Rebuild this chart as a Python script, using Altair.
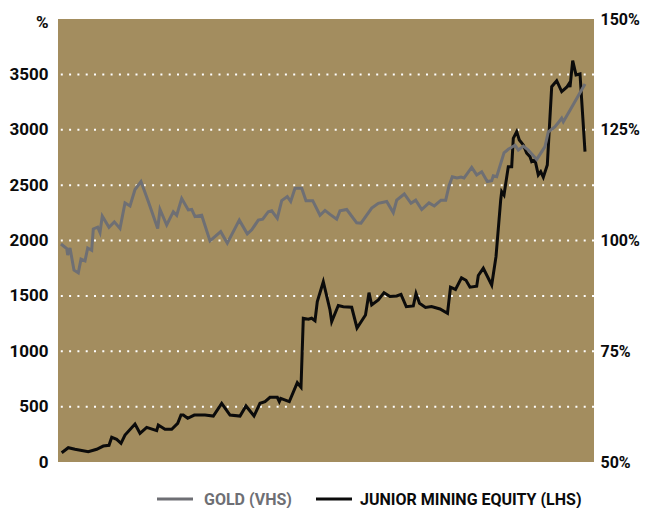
import altair as alt
import pandas as pd

# Gold (right-hand scale, %)
gold_t = [3, 8.7, 9.7, 12, 16, 20.3, 23, 27, 29.7, 33.7, 35.3, 39.7, 42, 44.3, 51, 56.3, 62, 67, 72, 77,
          83, 90.3, 99.7, 102, 108.7, 115.3, 118.7, 123.7, 130.3, 133.7, 137, 143.7, 152, 162.7, 169.3,
          181.3, 189.3, 193.7, 200.3, 204.7, 210.3, 213.7, 219.3, 223.7, 229.3, 232.7, 237, 243.7, 248,
          254.7, 262, 267, 272, 278.7, 282, 288.7, 298.7, 303, 313.7, 320.3, 328.7, 335.3, 338.7, 346.3,
          353, 357.7, 363.7, 371, 376.3, 383, 387.7, 391, 394.3, 399, 403, 406, 413.7, 418.7, 423.7,
          429.3, 433.7, 435.3, 438.7, 446, 450.3, 457, 460.3, 465.3, 470.3, 478.7, 487, 490.3, 497, 501,
          503.7, 505.3, 512, 527]
gold_v = [99.2, 98.2, 96.7, 98.3, 93.3, 92.7, 95.8, 95.4, 98.3, 97.8, 102.6, 103.0, 101.8, 105.5, 103.0,
          104.2, 102.7, 108.5, 107.8, 111.5, 113.3, 108.8, 102.7, 107.0, 103.5, 106.5, 105.7, 109.5, 106.9,
          107.0, 105.4, 105.7, 99.9, 102.0, 99.4, 104.6, 101.5, 102.4, 104.6, 104.8, 106.5, 106.7, 105.0,
          109.0, 109.9, 108.8, 111.8, 111.8, 109.0, 109.0, 105.7, 106.8, 105.9, 104.8, 106.7, 107.0, 104.0,
          103.9, 107.3, 108.4, 108.8, 106.3, 109.1, 110.5, 108.4, 109.1, 107.0, 108.5, 107.8, 109.1, 109.1,
          112.3, 114.4, 114.1, 114.3, 114.1, 116.5, 114.8, 115.5, 113.3, 113.5, 114.6, 114.4, 119.8, 120.6,
          121.5, 120.4, 121.3, 120.4, 118.3, 121.2, 124.5, 125.7, 126.8, 127.6, 126.8, 129.4, 135.3]

# Junior mining equity (left-hand scale, %)
jr_t = [3.7, 10.3, 17, 30.3, 38.7, 45.3, 51, 53.7, 58.7, 63, 67, 77, 82, 88.7, 98.7, 100.3, 107, 113.7,
        119.7, 123, 125.3, 129.7, 136.3, 147, 155.3, 163.7, 172, 182, 188, 196, 202, 207, 212, 219.3,
        221.3, 222.7, 231.3, 239.3, 243, 245.3, 250.3, 253.7, 257, 259.3, 265.3, 272, 273.7, 280.3, 285.3,
        293.7, 299, 307.5, 311, 313.7, 320.3, 326, 332, 338.7, 343, 348.3, 355.3, 358, 361.5, 367.5,
        373.5, 382, 389.5, 392.5, 397.5, 403.5, 408, 412, 418.7, 420.3, 425.3, 433.7, 438, 442.7, 443.7,
        446, 450.3, 453.7, 455.3, 458.7, 461.3, 465.3, 468.7, 472, 473.7, 477, 480.3, 482.7, 485.3, 489.3,
        492, 493.7, 498.7, 503.7, 508.7, 511.3, 512, 514.7, 518, 522, 527]
jr_v = [84, 129, 115, 93, 115, 144, 151, 223, 205, 169, 244, 343, 259, 313, 283, 334, 295, 295, 349, 424,
        424, 395, 424, 424, 415, 530, 424, 415, 506, 415, 530, 545, 584, 584, 545, 575, 545, 716, 675, 1298,
        1289, 1298, 1276, 1448, 1628, 1373, 1267, 1413, 1402, 1397, 1210, 1327, 1529, 1418, 1463, 1529,
        1494, 1499, 1513, 1402, 1409, 1522, 1433, 1395, 1404, 1382, 1343, 1578, 1558, 1663, 1641, 1578,
        1587, 1684, 1749, 1598, 1854, 2366, 2441, 2411, 2667, 2667, 2923, 2983, 2908, 2863, 2788, 2757,
        2712, 2727, 2592, 2621, 2571, 2682, 3118, 3389, 3443, 3344, 3384, 3420, 3384, 3624, 3495, 3504, 2802]

left_ticks = [0, 500, 1000, 1500, 2000, 2500, 3000, 3500]
grid_vals = [500, 1000, 1500, 2000, 2500, 3000, 3500]
right_ticks = [50, 75, 100, 125, 150]
legend_labels = ["GOLD (VHS)", "JUNIOR MINING EQUITY (LHS)"]

FONT = "Roboto, Liberation Sans, sans-serif"
BG = "#A38D5F"
GRAY = "#6E6F74"
BLACK = "#0B0B0B"

gold_df = pd.DataFrame({"t": gold_t, "v": gold_v})
jr_df = pd.DataFrame({"t": jr_t, "v": jr_v})
grid_df = pd.DataFrame({"v": grid_vals})

xs = alt.Scale(domain=[0, 536], nice=False, zero=False)
ys_left = alt.Scale(domain=[0, 4000], nice=False, zero=False)
ys_right = alt.Scale(domain=[50, 150], nice=False, zero=False)

left_axis = alt.Axis(values=left_ticks, orient="left", title="%", titleAngle=0, format="d",
                     titleX=-10, titleY=8, titleAlign="right", titleBaseline="alphabetic",
                     titleFont=FONT, titleFontSize=17, titleFontWeight="bold", titleColor=BLACK,
                     labelPadding=10, grid=False, domain=False, ticks=False,
                     labelFont=FONT, labelFontSize=17, labelFontWeight="bold",
                     labelColor=BLACK, labelOverlap=False)

grid = alt.Chart(grid_df).mark_rule(
    color="white", strokeWidth=2, strokeDash=[2, 6.3], strokeCap="butt"
).encode(y=alt.Y("v:Q", scale=ys_left, axis=left_axis))

junior = alt.Chart(jr_df).mark_line(color=BLACK, strokeWidth=3, strokeJoin="miter").encode(
    x=alt.X("t:Q", scale=xs, axis=None),
    y=alt.Y("v:Q", scale=ys_left, axis=left_axis),
)

left_layer = alt.layer(grid, junior)

gold = alt.Chart(gold_df).mark_line(color=GRAY, strokeWidth=3).encode(
    x=alt.X("t:Q", scale=xs, axis=None),
    y=alt.Y("v:Q", scale=ys_right,
            axis=alt.Axis(values=right_ticks, orient="right", title=None,
                          labelExpr="datum.value + '%'", labelPadding=6,
                          grid=False, domain=False, ticks=False,
                          labelFont=FONT, labelFontSize=16, labelFontWeight="bold",
                          labelColor=BLACK, labelOverlap=False)),
)

# Legend drawn below the plot
leg_gold_line = alt.Chart(gold_df.head(1)).mark_rule(color=GRAY, strokeWidth=3).encode(
    x=alt.value(99), x2=alt.value(135), y=alt.value(480))
leg_gold_text = alt.Chart(gold_df.head(1)).mark_text(
    text=legend_labels[0], font=FONT, fontSize=16, fontWeight="bold", color=GRAY,
    align="left", baseline="middle").encode(x=alt.value(146), y=alt.value(481))
leg_jr_line = alt.Chart(jr_df.head(1)).mark_rule(color=BLACK, strokeWidth=3).encode(
    x=alt.value(258), x2=alt.value(294), y=alt.value(480))
leg_jr_text = alt.Chart(jr_df.head(1)).mark_text(
    text=legend_labels[1], font=FONT, fontSize=16, fontWeight="bold", color=BLACK,
    align="left", baseline="middle").encode(x=alt.value(302), y=alt.value(481))

chart = alt.layer(
    left_layer, gold, leg_gold_line, leg_gold_text, leg_jr_line, leg_jr_text
).resolve_scale(y="independent").properties(
    width=536, height=443,
    autosize=alt.AutoSizeParams(type="none"),
    padding={"left": 50, "top": 11, "right": 46, "bottom": 46},
    background="white",
).configure_view(fill=BG, strokeWidth=0)

chart.save("out.html", embed_options={"renderer": "svg", "actions": False})
